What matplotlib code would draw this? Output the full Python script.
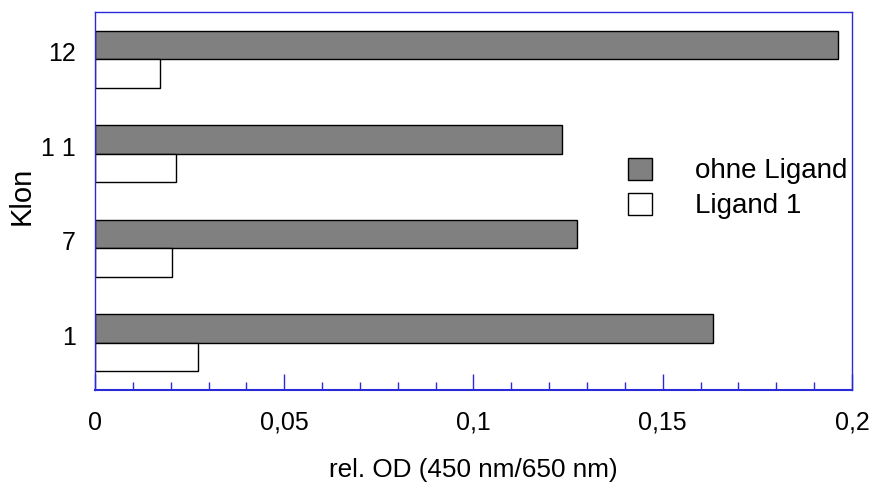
import matplotlib
matplotlib.use("Agg")
import matplotlib.pyplot as plt
from matplotlib.ticker import MultipleLocator, FixedLocator
import numpy as np

plt.rcParams['font.family'] = ['Liberation Sans', 'DejaVu Sans']

clones = ["1", "7", "1 1", "12"]
ohne_ligand = [0.1633, 0.1273, 0.1234, 0.1963]
ligand_1 = [0.0272, 0.0203, 0.0214, 0.0172]
xticks = [0, 0.05, 0.1, 0.15, 0.2]
xticklabels = ["0", "0,05", "0,1", "0,15", "0,2"]

blue = '#2a2ad8'
fig = plt.figure(figsize=(8.77, 4.82), dpi=100)
ax = fig.add_axes([0.1083, 0.1909, 0.9715 - 0.1083, 0.9751 - 0.1909])

y = np.arange(len(clones))
h = 0.30
ax.barh(y + h / 2, ohne_ligand, height=h, color='#808080', edgecolor='black',
        linewidth=1, label='ohne Ligand')
ax.barh(y - h / 2, ligand_1, height=h, color='white', edgecolor='black',
        linewidth=1, label='Ligand 1')

ax.set_xlim(0, 0.2)
ax.set_ylim(-0.5, 3.5)
ax.xaxis.set_major_locator(FixedLocator(xticks))
ax.set_xticklabels(xticklabels, fontsize=18)
ax.xaxis.set_minor_locator(MultipleLocator(0.01))
ax.tick_params(axis='x', which='major', direction='in', length=11.5, width=1,
               color=blue, pad=15)
ax.tick_params(axis='x', which='minor', direction='in', length=5.8, width=1,
               color=blue)
ax.set_yticks(y + 0.08)
ax.set_yticklabels(clones, fontsize=18)
ax.tick_params(axis='y', length=0, pad=14)

for s in ax.spines.values():
    s.set_color(blue)
    s.set_linewidth(1)
ax.spines['bottom'].set_linewidth(1.5)

ax.set_xlabel('rel. OD (450 nm/650 nm)', fontsize=18.8, labelpad=17)
ax.set_ylabel('Klon', fontsize=21)
ax.yaxis.set_label_coords(-0.078, 0.513)

ax.legend(loc='center left', bbox_to_anchor=(0.704, 0.533), frameon=False,
          fontsize=20, handlelength=0.86, handleheight=0.86, handletextpad=1.55,
          labelspacing=0.3, borderpad=0, borderaxespad=0)

fig.savefig('out.png', dpi=100)
